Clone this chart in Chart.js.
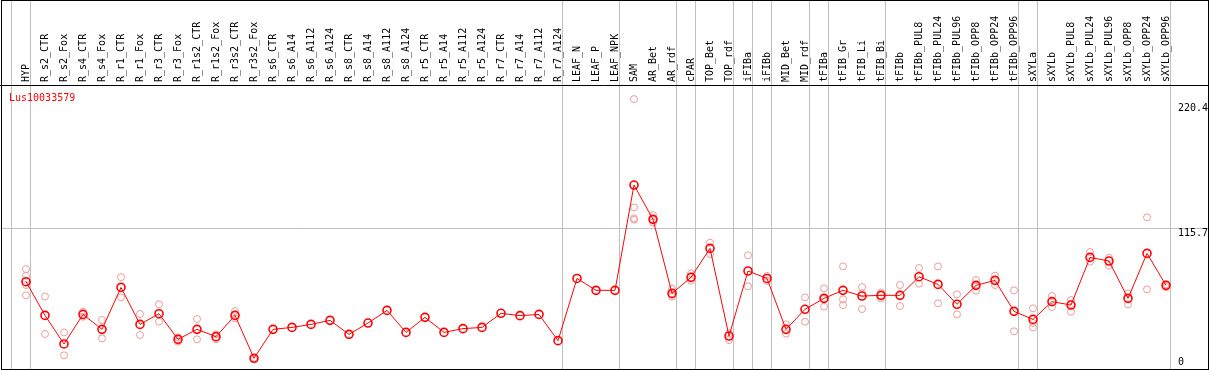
<!DOCTYPE html>
<html>
<head>
<meta charset="utf-8">
<script src="https://cdn.jsdelivr.net/npm/chart.js@4.4.0/dist/chart.umd.min.js"></script>
<style>
  html, body { margin: 0; padding: 0; background: #fff; }
  #caixa { width: 1209px; height: 370px; }
</style>
</head>
<body>
<div id="caixa"><canvas id="grafico"></canvas></div>
<script>
const gene = "Lus10033579";

const categorias = [
  "HYP", "R_s2_CTR", "R_s2_Fox", "R_s4_CTR", "R_s4_Fox", "R_r1_CTR", "R_r1_Fox",
  "R_r3_CTR", "R_r3_Fox", "R_r1s2_CTR", "R_r1s2_Fox", "R_r3s2_CTR", "R_r3s2_Fox",
  "R_s6_CTR", "R_s6_A14", "R_s6_A112", "R_s6_A124", "R_s8_CTR", "R_s8_A14",
  "R_s8_A112", "R_s8_A124", "R_r5_CTR", "R_r5_A14", "R_r5_A112", "R_r5_A124",
  "R_r7_CTR", "R_r7_A14", "R_r7_A112", "R_r7_A124", "LEAF_N", "LEAF_P", "LEAF_NPK",
  "SAM", "AR_Bet", "AR_rdf", "cPAR", "TOP_Bet", "TOP_rdf", "iFIBa", "iFIBb",
  "MID_Bet", "MID_rdf", "tFIBa", "tFIB_Gr", "tFIB_Li", "tFIB_Bi", "tFIBb",
  "tFIBb_PUL8", "tFIBb_PUL24", "tFIBb_PUL96", "tFIBb_OPP8", "tFIBb_OPP24", "tFIBb_OPP96",
  "sXYLa", "sXYLb", "sXYLb_PUL8", "sXYLb_PUL24", "sXYLb_PUL96", "sXYLb_OPP8",
  "sXYLb_OPP24", "sXYLb_OPP96"
];

// média de cada amostra (linha vermelha)
const medias = [
  71.8, 44.1, 20.6, 44.9, 32.6, 67.1, 36.7, 45.5, 24.4, 32.6,
  26.6, 44.1, 8.8, 32.6, 34.2, 36.7, 40.0, 28.5, 37.8, 48.2,
  30.1, 42.5, 30.1, 33.2, 34.2, 45.8, 43.9, 44.9, 23.3, 74.5,
  64.7, 64.7, 151.3, 123.1, 62.2, 75.4, 99.2, 27.1, 80.6, 74.5,
  32.6, 49.1, 58.1, 64.7, 60.0, 60.6, 60.6, 75.9, 69.6, 53.2,
  68.8, 72.9, 47.4, 40.8, 55.4, 52.6, 91.8, 88.8, 58.1, 95.1,
  68.8
];

// réplicas (círculos rosa), null quando não tem
const rep1 = [
  82.2, 59.7, 30.1, 47.1, 40.3, 75.6, 45.2, 53.2, 26.0, 41.1,
  28.5, 47.7, 9.3, null, null, null, null, null, null, null,
  null, null, null, null, null, null, null, null, null, null,
  null, null, 222.0, 126.5, 66.0, 78.7, 103.9, 29.3, 93.5, 76.5,
  36.7, 58.9, 66.3, 84.4, 67.4, 63.0, 69.1, 83.1, 84.4, 61.4,
  73.2, 76.8, 64.7, 49.9, 60.0, 56.7, 96.2, 91.5, 62.2, 124.7,
  69.6
];
const rep2 = [
  76.7, 28.8, 11.2, 43.0, 25.2, 58.9, 28.0, 38.9, 22.5, 24.4,
  24.5, 41.7, 8.2, null, null, null, null, null, null, null,
  null, null, null, null, null, null, null, null, null, null,
  null, null, 132.9, 123.0, 61.0, 72.6, 94.6, 23.8, 68.0, 72.5,
  29.1, 38.9, 57.5, 57.3, 62.2, 58.0, 51.8, 70.2, 54.0, 44.9,
  68.5, 69.1, 31.0, 37.8, 51.0, 53.5, 88.3, 85.0, 53.2, 65.5,
  67.4
];
const rep3 = [
  69.1, null, null, null, null, null, null, null, null, null,
  null, null, null, null, null, null, null, null, null, null,
  null, null, null, null, null, null, null, null, null, null,
  null, null, 123.9, 120.5, 59.5, null, null, null, null, null,
  null, null, 51.3, 52.6, 49.3, null, null, null, null, null,
  64.4, null, null, 34.2, null, 47.1, null, null, null, null,
  null
];
const rep4 = [
  60.6, null, null, null, null, null, null, null, null, null,
  null, null, null, null, null, null, null, null, null, null,
  null, null, null, null, null, null, null, null, null, null,
  null, null, 122.8, null, null, null, null, null, null, null,
  null, null, null, null, null, null, null, null, null, null,
  null, null, null, null, null, null, null, null, null, null,
  null
];

const marcasY = [0, 115.7, 220.4];
// índice onde começa cada grupo (linhas cinza verticais)
const inicioGrupos = [0, 1, 29, 32, 35, 36, 38, 39, 40, 42, 43, 46, 53, 54, 61];

const fonte = "DejaVu Sans Mono";

function pontos(arr) {
  return arr.map((v, i) => ({ x: i, y: v })).filter((p) => p.y !== null);
}

const estiloRep = {
  showLine: false,
  borderColor: "#f09a9a",
  backgroundColor: "rgba(0,0,0,0)",
  pointRadius: 3.5,
  pointHoverRadius: 3.5,
  pointBorderWidth: 1,
};

const moldura = {
  id: "moldura",
  beforeDatasetsDraw(chart) {
    const { ctx, chartArea } = chart;
    const x = chart.scales.x;
    ctx.save();
    ctx.strokeStyle = "#c0c0c0";
    ctx.lineWidth = 1;
    inicioGrupos.forEach((g) => {
      const px = Math.floor(x.getPixelForValue(g - 0.75)) + 0.5;
      ctx.beginPath();
      ctx.moveTo(px, 0);
      ctx.lineTo(px, chartArea.bottom);
      ctx.stroke();
    });
    ctx.restore();
  },
  afterDraw(chart) {
    const { ctx, chartArea } = chart;
    const y = chart.scales.y;
    ctx.save();
    // contorno preto
    ctx.strokeStyle = "#000";
    ctx.lineWidth = 1;
    ctx.strokeRect(chartArea.left + 0.5, 0.5, chartArea.right - chartArea.left, chartArea.bottom);
    ctx.beginPath();
    ctx.moveTo(0, chartArea.top + 0.5);
    ctx.lineTo(chartArea.right + 1, chartArea.top + 0.5);
    ctx.stroke();

    // nome do gene
    ctx.font = `10px "${fonte}"`;
    ctx.textBaseline = "alphabetic";
    ctx.textAlign = "left";
    ctx.fillStyle = "#ff0000";
    ctx.fillText(gene, chartArea.left + 8, chartArea.top + 16);

    // rótulos do eixo y
    ctx.fillStyle = "#000";
    marcasY.forEach((v) => {
      let topo = y.getPixelForValue(v) + 1;
      topo = Math.max(topo, chartArea.top + 19);
      topo = Math.min(topo, chartArea.bottom - 11);
      ctx.fillText(String(v), chartArea.right - 30, topo + 7);
    });
    ctx.restore();
  },
};

const ctx = document.getElementById("grafico").getContext("2d");
const grafico = new Chart(ctx, {
  type: "line",
  data: {
    datasets: [
      {
        label: "média",
        data: pontos(medias),
        borderColor: "#ff0000",
        borderWidth: 1,
        pointRadius: 4,
        pointHoverRadius: 4,
        pointBorderWidth: 1.6,
        pointBorderColor: "#ff0000",
        pointBackgroundColor: "rgba(0,0,0,0)",
        tension: 0,
      },
      { ...estiloRep, label: "rep1", data: pontos(rep1) },
      { ...estiloRep, label: "rep2", data: pontos(rep2) },
      { ...estiloRep, label: "rep3", data: pontos(rep3) },
      { ...estiloRep, label: "rep4", data: pontos(rep4) },
    ],
  },
  options: {
    responsive: true,
    maintainAspectRatio: false,
    animation: false,
    layout: { autoPadding: false, padding: { left: 1, right: 1, top: 0, bottom: 1 } },
    plugins: {
      legend: { display: false },
      tooltip: { enabled: false },
    },
    scales: {
      x: {
        type: "linear",
        position: "top",
        bounds: "data",
        min: -25 / 19,
        max: 1182 / 19,
        grid: { display: false, drawTicks: false },
        border: { display: false },
        afterBuildTicks: (s) => {
          s.ticks = categorias.map((c, i) => ({ value: i }));
        },
        afterFit: (s) => {
          s.height = 85;
        },
        ticks: {
          autoSkip: false,
          minRotation: 90,
          maxRotation: 90,
          padding: 3,
          labelOffset: 12,
          color: "#000",
          font: { family: fonte, size: 10 },
          callback: (v) => categorias[v],
        },
      },
      y: {
        position: "right",
        bounds: "data",
        min: 0,
        max: 233.6,
        afterBuildTicks: (s) => {
          s.ticks = marcasY.map((v) => ({ value: v }));
        },
        afterFit: (s) => {
          s.width = 0;
        },
        grid: {
          drawTicks: false,
          color: (c) => (c.tick && c.tick.value === 115.7 ? "#c0c0c0" : "rgba(0,0,0,0)"),
        },
        border: { display: false },
        ticks: { display: false },
      },
    },
  },
  plugins: [moldura],
});
</script>
</body>
</html>
